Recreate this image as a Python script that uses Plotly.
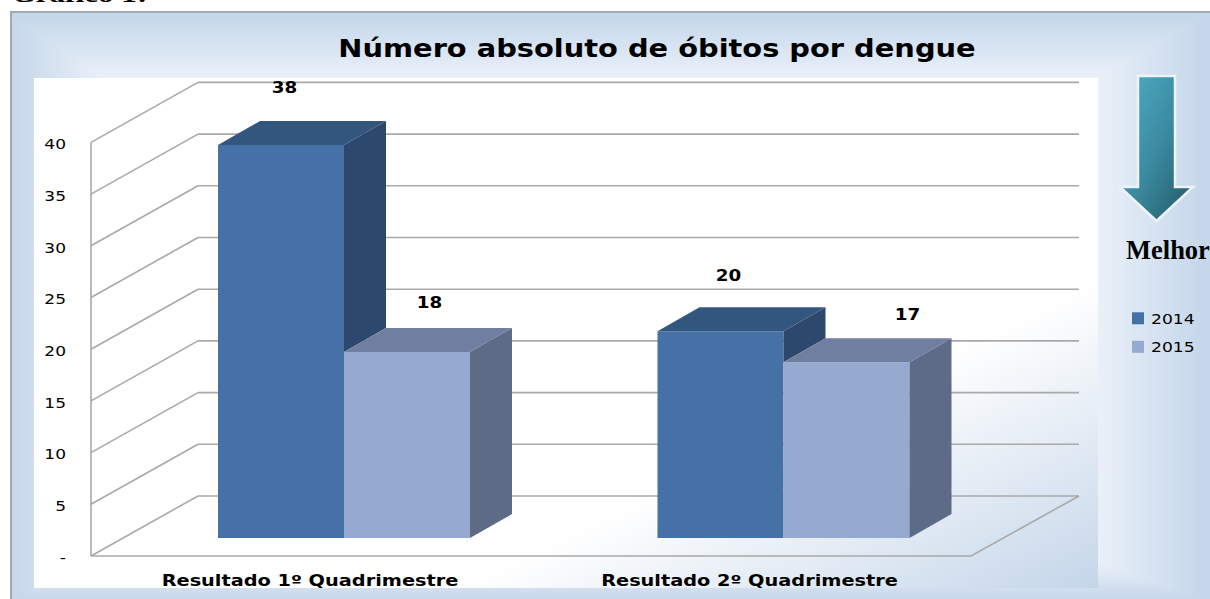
import base64, struct, zlib
import numpy as np
import plotly.graph_objects as go

# ---- data ----
categories = ["Resultado 1º Quadrimestre", "Resultado 2º Quadrimestre"]
series_names = ["2014", "2015"]
values_2014 = [38, 20]
values_2015 = [18, 17]
y_ticks = [0, 5, 10, 15, 20, 25, 30, 35, 40]
y_tick_labels = ["-", "5", "10", "15", "20", "25", "30", "35", "40"]
label_dx = [[3, 22], [8, 61]]
label_dy = [[57, 49], [55, 47]]

W, H = 1210, 599
UNIT = 10.34          # px per value unit
BASE_BAR = 538        # px of value 0 on the bars' plane
BASE_FRONT = 556      # px of value 0 on the front of the floor
X0, XC = 310, 439.5   # px of first category, px per category


def cx(px):
    return (px - X0) / XC


BAR_W = 126 / XC
OFF = -92 / XC        # left edge of first bar relative to the category position
DX, DY = 42 / XC, 24 / UNIT
WALL_X0, WALL_X1 = cx(91), cx(198)
WALL_RIGHT = cx(1079)
FLOOR_RIGHT = cx(971)
WALL_DY = 60 / UNIT

C_FRONT = ["#4571a7", "#95a9d1"]
C_TOP = ["#33567f", "#707f9f"]
C_SIDE = ["#2c486c", "#5e6b87"]
GRID = "#a9a9a9"


def png_uri(rgb):
    h, w, _ = rgb.shape
    raw = b"".join(b"\x00" + rgb[i].tobytes() for i in range(h))

    def chunk(t, d):
        return struct.pack(">I", len(d)) + t + d + struct.pack(">I", zlib.crc32(t + d) & 0xffffffff)
    data = (b"\x89PNG\r\n\x1a\n" + chunk(b"IHDR", struct.pack(">IIBBBBB", w, h, 8, 2, 0, 0, 0))
            + chunk(b"IDAT", zlib.compress(raw)) + chunk(b"IEND", b""))
    return "data:image/png;base64," + base64.b64encode(data).decode()


def background():
    yy, xx = np.mgrid[0:H, 0:W].astype(float)
    edge = np.array([197, 215, 234.0])
    mid = np.array([235, 241, 250.0])
    t = np.minimum.reduce([
        np.clip((xx - 10) / 95, 0, 1),
        np.clip((1205 - xx) / 110, 0, 1),
        np.clip((yy - 14) / 64, 0, 1),
        np.clip((600 - yy) / 38, 0, 1),
    ])[..., None]
    img = edge + (mid - edge) * t
    # plot panel
    d = ((xx - 34) / 1064 + (yy - 78) / 510) / 2
    s = np.clip((d - 0.70) / 0.30, 0, 1)[..., None]
    panel = np.array([255, 255, 255.0]) + (np.array([197, 214, 234.0]) - 255) * s
    mask = (xx >= 34) & (xx < 1098) & (yy >= 78) & (yy < 588)
    img[mask] = panel[mask]
    img[yy < 11] = 255
    img[:, :10] = 255
    border = np.array([160, 168, 176.0])
    img[(yy >= 10.5) & (yy < 12.5) & (xx >= 10)] = border
    img[(xx >= 10) & (xx < 12) & (yy >= 11)] = border
    return png_uri(img.astype(np.uint8))


ARROW_SVG = (
    '<svg xmlns="http://www.w3.org/2000/svg" width="80" height="152" viewBox="1117 72 80 152">'
    '<defs><linearGradient id="g" x1="0" y1="0" x2="1" y2="1">'
    '<stop offset="0" stop-color="#4dafc9"/><stop offset="0.5" stop-color="#3c8ba1"/>'
    '<stop offset="1" stop-color="#205663"/></linearGradient></defs>'
    '<path d="M1138 76H1175V187H1193L1156.5 221L1120 187H1138Z" fill="url(#g)" '
    'stroke="#eef3fa" stroke-width="2.5"/></svg>'
)
arrow_uri = "data:image/svg+xml;base64," + base64.b64encode(ARROW_SVG.encode()).decode()

fig = go.Figure()

all_vals = [values_2014, values_2015]
for s, (name, vals) in enumerate(zip(series_names, all_vals)):
    fig.add_trace(go.Bar(
        x=[0, 1], y=vals, name=name, width=BAR_W, offset=OFF + s * BAR_W,
        marker=dict(color=C_FRONT[s], line=dict(width=0)),
        hoverinfo="skip", legendgroup=name,
    ))

# depth faces
for c in range(len(categories)):
    for s, vals in enumerate(all_vals):
        v = vals[c]
        x0 = c + OFF + s * BAR_W
        x1 = x0 + BAR_W
        low = all_vals[1][c] if s == 0 else 0
        low = min(low, v)
        fig.add_trace(go.Scatter(
            x=[x1, x1 + DX, x1 + DX, x1, x1], y=[v, v + DY, low + DY, low, v],
            mode="lines", fill="toself", fillcolor=C_SIDE[s], line=dict(width=0),
            showlegend=False, hoverinfo="skip"))
        fig.add_trace(go.Scatter(
            x=[x0, x0 + DX, x1 + DX, x1, x0], y=[v, v + DY, v + DY, v, v],
            mode="lines", fill="toself", fillcolor=C_TOP[s], line=dict(width=0),
            showlegend=False, hoverinfo="skip"))

# carrier for the front value axis
fig.add_trace(go.Scatter(x=[WALL_X0] * len(y_ticks), y=y_ticks, yaxis="y2", mode="lines",
                         line=dict(color=GRID, width=1.6), showlegend=False, hoverinfo="skip"))

shapes = []
line = dict(color=GRID, width=1.6)
for v in y_ticks:
    shapes.append(dict(type="line", layer="below", xref="x", yref="y2", x0=WALL_X1, x1=WALL_RIGHT,
                       y0=v + WALL_DY, y1=v + WALL_DY, line=line))
    shapes.append(dict(type="line", layer="below", xref="x", yref="y2", x0=WALL_X0, x1=WALL_X1,
                       y0=v, y1=v + WALL_DY, line=line))
shapes.append(dict(type="line", layer="below", xref="x", yref="y2", x0=WALL_X0, x1=FLOOR_RIGHT,
                   y0=0, y1=0, line=line))
shapes.append(dict(type="line", layer="below", xref="x", yref="y2", x0=FLOOR_RIGHT, x1=WALL_RIGHT,
                   y0=0, y1=WALL_DY, line=line))

annotations = []
for c in range(len(categories)):
    for s, vals in enumerate(all_vals):
        annotations.append(dict(
            x=c + OFF + (s + 0.5) * BAR_W, y=vals[c], text=str(vals[c]), showarrow=False,
            xshift=label_dx[c][s], yshift=label_dy[c][s], xanchor="center", yanchor="middle",
            font=dict(family="DejaVu Sans", size=15, color="#000000", weight="bold")))
annotations.append(dict(xref="paper", yref="paper", x=1126 / W, y=1 - 250 / H, text="Melhor",
                        showarrow=False, xanchor="left", yanchor="middle", xshift=-2,
                        font=dict(family="Liberation Serif", size=26.5, color="#000000", weight="bold")))
annotations.append(dict(xref="paper", yref="paper", x=27 / W, y=1 + 6 / H, text="Gráfico 1:",
                        showarrow=False, xanchor="left", yanchor="middle", xshift=-2,
                        font=dict(family="Liberation Serif", size=24, color="#000000", weight="bold")))

images = [
    dict(source=background(), xref="paper", yref="paper", x=0, y=1, sizex=1, sizey=1,
         sizing="stretch", xanchor="left", yanchor="top", layer="below"),
    dict(source=arrow_uri, xref="paper", yref="paper", x=1117 / W, y=1 - 72 / H, sizex=80 / W, sizey=152 / H,
         sizing="stretch", xanchor="left", yanchor="top", layer="above"),
]

fig.update_layout(
    width=W, height=H, margin=dict(l=0, r=0, t=0, b=0, pad=0),
    paper_bgcolor="rgba(0,0,0,0)", plot_bgcolor="rgba(0,0,0,0)",
    barmode="overlay", shapes=shapes, annotations=annotations, images=images,
    title=dict(text="Número absoluto de óbitos por dengue", x=657 / W, xanchor="center",
               y=1 - 48 / H, yanchor="middle",
               font=dict(family="DejaVu Sans", size=25, color="#000000", weight="bold")),
    xaxis=dict(range=[cx(0), cx(W)], tickvals=[0, 1], ticktext=categories, showgrid=False, zeroline=False,
               anchor="free", position=(H - 569) / H, ticks="", showline=False,
               tickfont=dict(family="DejaVu Sans", size=16, color="#000000", weight="bold")),
    yaxis=dict(range=[(BASE_BAR - H) / UNIT, BASE_BAR / UNIT], visible=False, fixedrange=True),
    yaxis2=dict(range=[(BASE_FRONT - H) / UNIT, BASE_FRONT / UNIT], overlaying="y", side="left",
                anchor="free", position=66 / W, tickvals=y_ticks, ticktext=y_tick_labels,
                showgrid=False, zeroline=False, ticks="", showline=False, ticklabelshift=2,
                tickfont=dict(family="DejaVu Sans", size=13.5, color="#000000")),
    legend=dict(x=1118 / W, y=1 - 303 / H, xanchor="left", yanchor="top", bgcolor="rgba(0,0,0,0)",
                font=dict(family="DejaVu Sans", size=13.5, color="#000000"),
                tracegroupgap=8, itemwidth=30),
    showlegend=True,
)

# The reference's text is stretched horizontally: widen the glyphs to the measured widths.
post = """
document.body.style.margin='0';document.documentElement.style.overflow='hidden';
function st(t,k){var w=t.getComputedTextLength();
  t.setAttribute('lengthAdjust','spacingAndGlyphs');t.setAttribute('textLength',w*k);}
function all(sel,k){document.querySelectorAll(sel).forEach(function(t){st(t,k);});}
all('.xtick text',1.207);all('.y2tick text',1.26);all('.gtitle',1.154);all('.legendtext',1.27);
document.querySelectorAll('.annotation-text').forEach(function(t){
  var s=t.textContent;
  if(/^\\d+$/.test(s)){st(t,1.22);}
  if(s.indexOf('Gr')===0){st(t,1.3);}
});
document.querySelectorAll('.legendtext').forEach(function(t){t.setAttribute('x',33);});
"""
fig.write_html("out.html", config=dict(displayModeBar=False), post_script=post)
